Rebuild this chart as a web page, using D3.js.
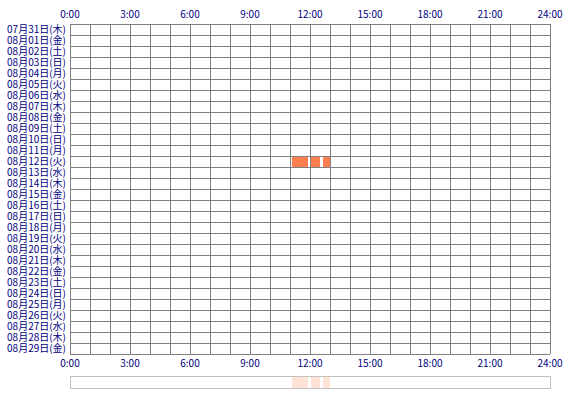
<!DOCTYPE html>
<html>
<head>
<meta charset="utf-8">
<script src="https://cdn.jsdelivr.net/npm/d3@7"></script>
<style>
  body { margin: 0; background: #fff; }
  text { font-family: "Noto Sans CJK JP", sans-serif; font-size: 10px; fill: #000080; }
</style>
</head>
<body>
<div id="chart"></div>
<script>
const days = [
  "07月31日(木)", "08月01日(金)", "08月02日(土)", "08月03日(日)", "08月04日(月)",
  "08月05日(火)", "08月06日(水)", "08月07日(木)", "08月08日(金)", "08月09日(土)",
  "08月10日(日)", "08月11日(月)", "08月12日(火)", "08月13日(水)", "08月14日(木)",
  "08月15日(金)", "08月16日(土)", "08月17日(日)", "08月18日(月)", "08月19日(火)",
  "08月20日(水)", "08月21日(木)", "08月22日(金)", "08月23日(土)", "08月24日(日)",
  "08月25日(月)", "08月26日(火)", "08月27日(水)", "08月28日(木)", "08月29日(金)"
]
const hourTicks = [0, 3, 6, 9, 12, 15, 18, 21, 24]
// active periods: day label, start hour, end hour
const periodDay = ["08月12日(火)", "08月12日(火)", "08月12日(火)"]
const periodStart = [11.1, 12.05, 12.63]
const periodEnd = [11.9, 12.5, 13.0]

const w_full = 570, h_full = 400
const margin = {top: 24, left: 70, right: 20}
const gridBottom = 354

const svg = d3.select("#chart")
    .append("svg")
    .attr("width", w_full)
    .attr("height", h_full)

const x = d3.scaleLinear()
    .domain([0, 24])
    .range([margin.left, w_full - margin.right])

const y = d3.scaleBand()
    .domain(days)
    .range([margin.top, gridBottom])

// grid
const grid = svg.append("g").attr("stroke", "#808080").attr("stroke-width", 1).attr("shape-rendering", "crispEdges")
grid.selectAll(".vline")
    .data(d3.range(0, 25))
    .join("line")
    .attr("x1", d => x(d)).attr("x2", d => x(d))
    .attr("y1", margin.top).attr("y2", gridBottom)
grid.selectAll(".hline")
    .data(days.concat(["end"]))
    .join("line")
    .attr("x1", x(0)).attr("x2", x(24))
    .attr("y1", (d, i) => margin.top + i * y.bandwidth())
    .attr("y2", (d, i) => margin.top + i * y.bandwidth())

// activity blocks
const periods = periodDay.map((d, i) => ({day: d, start: periodStart[i], end: periodEnd[i]}))
svg.selectAll(".block")
    .data(periods)
    .join("rect")
    .attr("class", "block")
    .attr("x", d => x(d.start))
    .attr("width", d => x(d.end) - x(d.start))
    .attr("y", d => y(d.day) + 1)
    .attr("height", y.bandwidth() - 1)
    .attr("fill", "#ff7f50")
    .attr("shape-rendering", "crispEdges")

// day labels
svg.selectAll(".daylabel")
    .data(days)
    .join("text")
    .attr("x", margin.left - 4)
    .attr("y", d => y(d) + y.bandwidth() / 2)
    .attr("dy", "0.36em")
    .attr("text-anchor", "end")
    .text(d => d)

// top and bottom hour labels
const fmtHour = h => h + ":00"
svg.selectAll(".toplabel")
    .data(hourTicks)
    .join("text")
    .attr("x", d => x(d))
    .attr("y", 18)
    .attr("text-anchor", "middle")
    .text(fmtHour)
svg.selectAll(".botlabel")
    .data(hourTicks)
    .join("text")
    .attr("x", d => x(d))
    .attr("y", 367)
    .attr("text-anchor", "middle")
    .text(fmtHour)

// overview strip
svg.selectAll(".strip")
    .data(periods)
    .join("rect")
    .attr("x", d => x(d.start))
    .attr("width", d => x(d.end) - x(d.start))
    .attr("y", 377)
    .attr("height", 11)
    .attr("fill", "#ffe3d6")
    .attr("shape-rendering", "crispEdges")
svg.append("rect")
    .attr("x", x(0) + 0.5)
    .attr("y", 376.5)
    .attr("width", x(24) - x(0))
    .attr("height", 12)
    .attr("fill", "none")
    .attr("stroke", "#c0c0c0")
</script>
</body>
</html>
